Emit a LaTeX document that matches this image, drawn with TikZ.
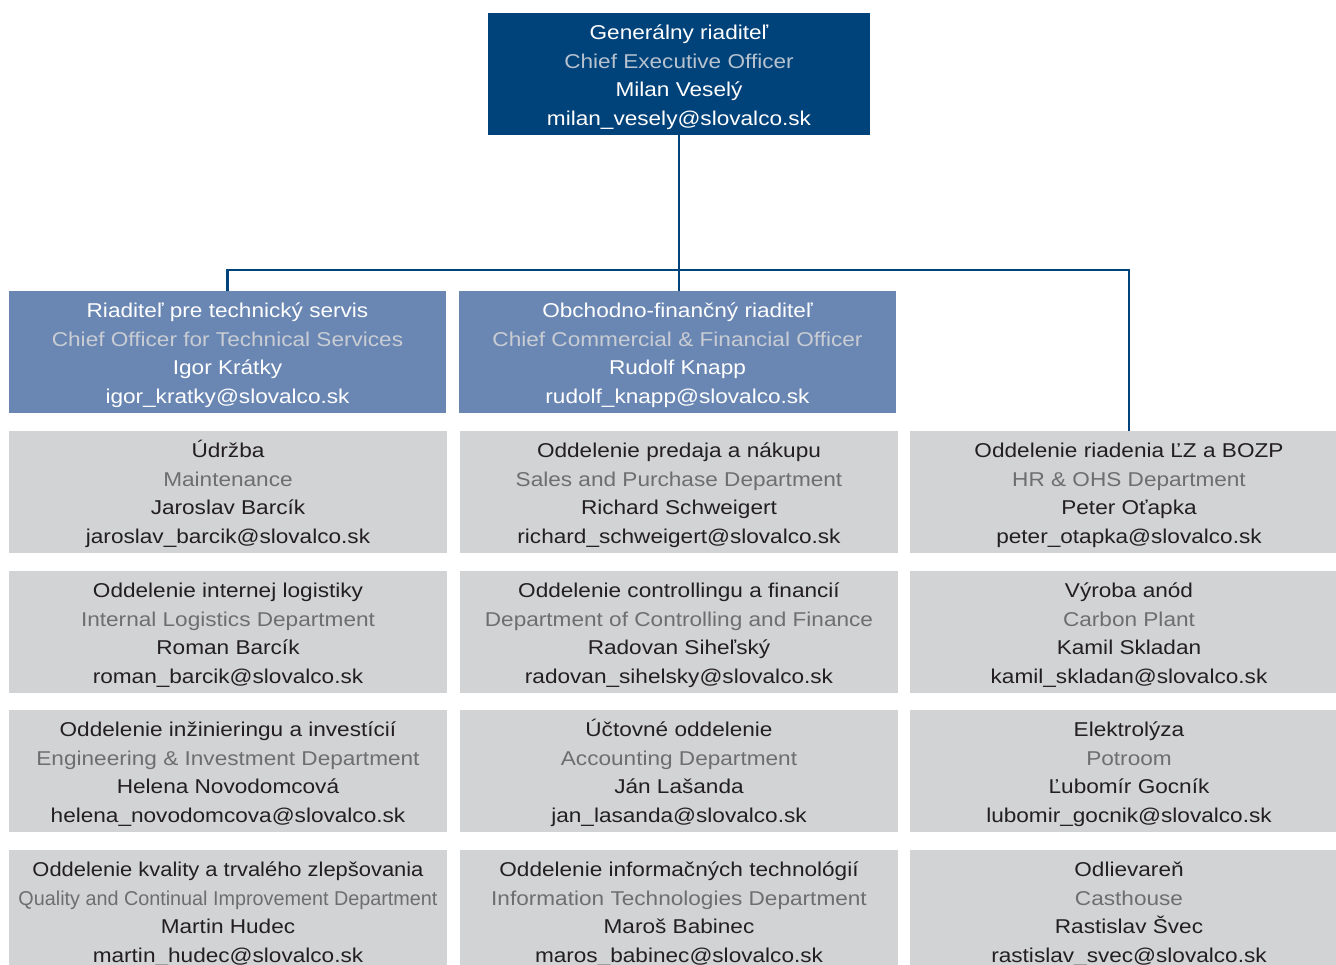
\documentclass[tikz,border=0pt]{standalone}
\usepackage{fontspec}
\setmainfont{Liberation Sans}[FakeStretch=1.13]
\usepackage{graphicx}
\definecolor{ceoblue}{HTML}{00427A}
\definecolor{midblue}{HTML}{6A87B4}
\definecolor{cardgray}{HTML}{D2D3D5}
\definecolor{darktext}{HTML}{231F20}
\definecolor{subgray}{HTML}{6D6E70}
\definecolor{sublight}{HTML}{C9CDD3}
\definecolor{subceo}{HTML}{B7C2CF}
\newcommand{\cardlines}[5]{\rule{0pt}{22pt}#2\\\textcolor{#1}{#3}\\#4\\#5\rule[-5pt]{0pt}{5pt}}
\tikzset{
  basebox/.style={inner sep=0pt, outer sep=0pt, align=center, anchor=north west,
    font=\fontsize{20}{28.7}\selectfont},
  ceobox/.style={basebox, fill=ceoblue, text=white, minimum width=382pt, minimum height=122pt},
  chiefbox/.style={basebox, fill=midblue, text=white, minimum width=437pt, minimum height=122pt},
  deptbox/.style={basebox, fill=cardgray, text=darktext, minimum width=438pt, minimum height=122pt},
  conn/.style={draw=ceoblue, line width=2.2pt}
}
\begin{document}
\begin{tikzpicture}[x=1pt,y=-1pt]
\useasboundingbox (0,0) rectangle (1336,964);
\clip (0,0) rectangle (1336,964);
\fill[white] (0,0) rectangle (1336,964);

\node[ceobox] (ceo) at (488,13) {\cardlines{subceo}{Generálny riaditeľ}{Chief Executive Officer}{Milan Veselý}{milan\_vesely@slovalco.sk}};

\node[chiefbox] (tech) at (9,291) {\cardlines{sublight}{Riaditeľ pre technický servis}{Chief Officer for Technical Services}{Igor Krátky}{igor\_kratky@slovalco.sk}};
\node[chiefbox] (fin) at (459,291) {\cardlines{sublight}{Obchodno-finančný riaditeľ}{Chief Commercial \& Financial Officer}{Rudolf Knapp}{rudolf\_knapp@slovalco.sk}};

% column 1
\node[deptbox] (udr) at (9,431) {\cardlines{subgray}{Údržba}{Maintenance}{Jaroslav Barcík}{jaroslav\_barcik@slovalco.sk}};
\node[deptbox] (log) at (9,571) {\cardlines{subgray}{Oddelenie internej logistiky}{Internal Logistics Department}{Roman Barcík}{roman\_barcik@slovalco.sk}};
\node[deptbox] (eng) at (9,710) {\cardlines{subgray}{Oddelenie inžinieringu a investícií}{Engineering \& Investment Department}{Helena Novodomcová}{helena\_novodomcova@slovalco.sk}};
\node[deptbox] (qual) at (9,850) {\cardlines{subgray}{\resizebox{391pt}{\height}{Oddelenie kvality a trvalého zlepšovania}}{\resizebox{419pt}{\height}{Quality and Continual Improvement Department}}{Martin Hudec}{martin\_hudec@slovalco.sk}};

% column 2
\node[deptbox] (sales) at (460,431) {\cardlines{subgray}{Oddelenie predaja a nákupu}{Sales and Purchase Department}{Richard Schweigert}{richard\_schweigert@slovalco.sk}};
\node[deptbox] (ctrl) at (460,571) {\cardlines{subgray}{Oddelenie controllingu a financií}{Department of Controlling and Finance}{Radovan Siheľský}{radovan\_sihelsky@slovalco.sk}};
\node[deptbox] (acc) at (460,710) {\cardlines{subgray}{Účtovné oddelenie}{Accounting Department}{Ján Lašanda}{jan\_lasanda@slovalco.sk}};
\node[deptbox] (it) at (460,850) {\cardlines{subgray}{Oddelenie informačných technológií}{Information Technologies Department}{Maroš Babinec}{maros\_babinec@slovalco.sk}};

% column 3
\node[deptbox] (hr) at (910,431) {\cardlines{subgray}{Oddelenie riadenia ĽZ a BOZP}{HR \& OHS Department}{Peter Oťapka}{peter\_otapka@slovalco.sk}};
\node[deptbox] (carb) at (910,571) {\cardlines{subgray}{Výroba anód}{Carbon Plant}{Kamil Skladan}{kamil\_skladan@slovalco.sk}};
\node[deptbox] (elec) at (910,710) {\cardlines{subgray}{Elektrolýza}{Potroom}{Ľubomír Gocník}{lubomir\_gocnik@slovalco.sk}};
\node[deptbox] (cast) at (910,850) {\cardlines{subgray}{Odlievareň}{Casthouse}{Rastislav Švec}{rastislav\_svec@slovalco.sk}};

% connectors
\coordinate (bus) at (ceo.south |- 0,270);
\draw[conn] (ceo.south) -- (bus);
\draw[conn] (tech.north) |- (bus) -| (hr.north);
\draw[conn] (bus) -- (fin.north -| bus);
\end{tikzpicture}
\end{document}
